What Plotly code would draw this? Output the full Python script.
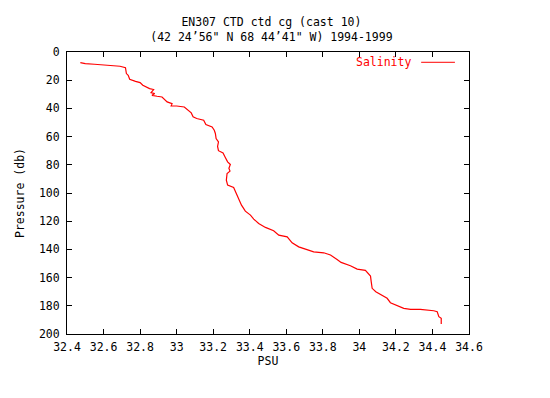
import plotly.graph_objects as go

salinity = [32.473, 32.50, 32.55, 32.61, 32.65, 32.69, 32.72, 32.725, 32.735, 32.743,
            32.775, 32.80, 32.815, 32.852, 32.874, 32.86, 32.88, 32.865, 32.893, 32.92,
            32.948, 32.975, 32.97, 33.00, 33.042, 33.066, 33.08, 33.09, 33.11, 33.148,
            33.16, 33.194, 33.206, 33.212, 33.216, 33.229, 33.224, 33.229, 33.254, 33.265,
            33.279, 33.294, 33.286, 33.292, 33.276, 33.272, 33.279, 33.312, 33.325, 33.34,
            33.355, 33.376, 33.404, 33.422, 33.449, 33.486, 33.531, 33.559, 33.605, 33.632,
            33.668, 33.705, 33.75, 33.805, 33.842, 33.878, 33.90, 33.951, 33.988, 34.033,
            34.061, 34.065, 34.07, 34.09, 34.124, 34.152, 34.17, 34.20, 34.225, 34.243,
            34.28, 34.334, 34.407, 34.426, 34.435, 34.448, 34.448]
pressure = [7.5, 8.2, 8.7, 9.4, 10.1, 10.1, 11.1, 15.3, 16.5, 19.3,
            20.8, 21.7, 23.6, 26.0, 26.6, 28.8, 29.5, 30.7, 31.4, 31.9,
            35.4, 36.6, 38.2, 38.3, 39.0, 41.3, 43.2, 46.0, 47.2, 48.4,
            51.4, 53.1, 55.5, 57.8, 61.4, 63.8, 67.0, 70.0, 71.6, 74.4,
            77.9, 79.8, 82.5, 84.5, 86.2, 90.9, 94.4, 96.1, 99.9, 104.6,
            108.6, 112.9, 115.7, 118.5, 121.6, 124.4, 126.8, 129.9, 131.1, 135.3,
            138.2, 139.8, 141.7, 142.4, 144.0, 147.1, 149.2, 151.6, 154.0, 154.9,
            158.9, 163.0, 167.6, 170.0, 172.4, 174.7, 177.8, 179.5, 180.7, 181.8,
            182.5, 182.5, 183.5, 184.2, 187.7, 188.9, 192.9]

x_ticks = [32.4, 32.6, 32.8, 33.0, 33.2, 33.4, 33.6, 33.8, 34.0, 34.2, 34.4, 34.6]
x_labels = ["32.4", "32.6", "32.8", "33", "33.2", "33.4", "33.6", "33.8", "34", "34.2", "34.4", "34.6"]
y_ticks = [0, 20, 40, 60, 80, 100, 120, 140, 160, 180, 200]

FONT = "DejaVu Sans Mono"
FS = 11.5

fig = go.Figure()
fig.add_trace(go.Scatter(x=salinity, y=pressure, mode="lines", name="Salinity",
                         line=dict(color="#ff0000", width=1.2), showlegend=False))

fig.update_layout(
    width=542, height=390,
    margin=dict(l=59, r=81, t=44, b=64),
    paper_bgcolor="white", plot_bgcolor="white",
    font=dict(family=FONT, size=FS, color="black"),
    title=dict(text="EN307 CTD ctd cg (cast 10)<br>(42 24\u201956\" N 68 44\u201941\" W) 1994-1999",
               xref="container", x=0.486, xanchor="center",
               yref="container", y=0.953, yanchor="top",
               font=dict(family=FONT, size=FS, color="black")),
    xaxis=dict(range=[32.4, 34.6], tickvals=x_ticks, ticktext=x_labels,
               ticks="inside", ticklen=5, tickcolor="black", mirror="allticks",
               showline=True, linecolor="black", linewidth=1, showgrid=False, zeroline=False,
               ticklabelstandoff=2,
               title=dict(text="PSU", standoff=4, font=dict(family=FONT, size=FS, color="black")),
               tickfont=dict(size=FS)),
    yaxis=dict(range=[200, 0], tickvals=y_ticks,
               ticks="inside", ticklen=5, tickcolor="black", mirror="allticks",
               showline=True, linecolor="black", linewidth=1, showgrid=False, zeroline=False,
               ticklabelstandoff=4,
               title=dict(text="Pressure (db)", standoff=11, font=dict(family=FONT, size=FS, color="black")),
               tickfont=dict(size=FS)),
    annotations=[dict(text="Salinity", xref="paper", yref="paper", x=0.861, y=0.9635,
                      xanchor="right", yanchor="middle", showarrow=False,
                      font=dict(family=FONT, size=FS, color="#ff0000"))],
    shapes=[dict(type="line", xref="paper", yref="paper", x0=0.881, x1=0.965, y0=0.9635, y1=0.9635,
                 line=dict(color="#ff0000", width=1))],
)

fig.write_html("out.html")
